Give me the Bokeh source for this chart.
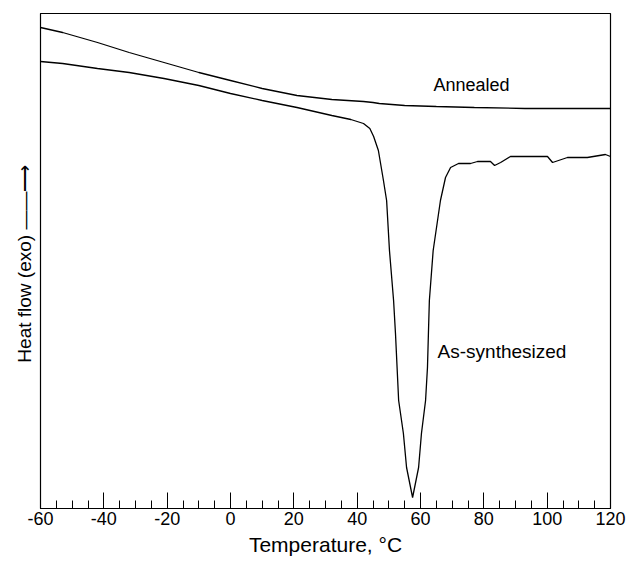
from bokeh.plotting import figure
from bokeh.models import Range1d, FixedTicker, Label
from bokeh.embed import file_html
from bokeh.resources import INLINE

# Annealed curve (temperature in degC, heat flow in arbitrary units)
annealed_t = [-60, -53, -42, -32, -21, -10, 0, 10, 21, 32, 42, 45, 47, 55, 65, 77, 93, 120]
annealed_hf = [4.81, 4.76, 4.66, 4.56, 4.46, 4.36, 4.28, 4.20, 4.13, 4.09, 4.07, 4.06, 4.05, 4.03, 4.02, 4.01, 4.00, 4.00]

# As-synthesized curve
synth_t = [-60, -53, -42, -32, -21, -10, 0, 10, 21, 32, 38, 42, 44, 45.2, 46.7, 48.3, 49.3, 50.2, 51.5, 52.1,
           53.1, 54.6, 55.6, 57.5, 59.4, 60.3, 61.6, 62.2, 62.5, 62.8, 64.0, 66.3, 67.9, 69.5, 72.0,
           75.8, 78.0, 82.1, 83.4, 85.3, 88.4, 100.1, 101.7, 106.4, 112.7, 118.4, 120]
synth_hf = [4.47, 4.45, 4.40, 4.36, 4.30, 4.23, 4.15, 4.08, 4.01, 3.93, 3.89, 3.85, 3.80, 3.72, 3.58, 3.28, 3.08, 2.58, 2.08, 1.75,
            1.08, 0.75, 0.41, 0.11, 0.41, 0.75, 1.08, 1.41, 1.75, 2.08, 2.58, 3.08, 3.31, 3.41, 3.45,
            3.45, 3.47, 3.47, 3.43, 3.46, 3.52, 3.52, 3.46, 3.51, 3.51, 3.54, 3.52]

x_ticks = [-60, -40, -20, 0, 20, 40, 60, 80, 100, 120]
x_tick_labels = ["-60", "-40", "-20", "0", "20", "40", "60", "80", "100", "120"]
x_minor = list(range(-60, 121, 5))

FONT = "Liberation Sans"

p = figure(width=627, height=562, output_backend="svg", toolbar_location=None,
           x_range=Range1d(-60, 120), y_range=Range1d(0, 4.95),
           min_border_left=40, min_border_right=17, min_border_top=13, min_border_bottom=54)
p.grid.visible = False
p.outline_line_color = "black"
p.outline_line_width = 1.2
p.background_fill_color = "white"
p.border_fill_color = "white"

p.line(annealed_t, annealed_hf, line_color="black", line_width=1.3)
p.line(synth_t, synth_hf, line_color="black", line_width=1.3)

# x axis
xa = p.xaxis[0]
xa.ticker = FixedTicker(ticks=x_ticks, minor_ticks=x_minor)
xa.major_label_overrides = {t: s for t, s in zip(x_ticks, x_tick_labels)}
xa.major_tick_in = 16
xa.major_tick_out = 0
xa.minor_tick_in = 8
xa.minor_tick_out = 0
xa.major_tick_line_color = "black"
xa.minor_tick_line_color = "black"
xa.axis_line_color = "black"
xa.major_label_text_font = FONT
xa.major_label_text_font_size = "18px"
xa.major_label_text_color = "black"
xa.major_label_standoff = 3
xa.axis_label = "Temperature, °C"
xa.axis_label_text_font = FONT
xa.axis_label_text_font_size = "21px"
xa.axis_label_text_font_style = "normal"
xa.axis_label_text_color = "black"
xa.axis_label_standoff = 5

# y axis: label only
ya = p.yaxis[0]
ya.ticker = FixedTicker(ticks=[])
ya.major_tick_in = 0
ya.major_tick_out = 0
ya.minor_tick_in = 0
ya.minor_tick_out = 0
ya.major_label_text_font_size = "0px"
ya.axis_line_color = "black"
ya.axis_label = "Heat flow (exo)  \u2014\u2014\u27f6"
ya.axis_label_text_font = FONT
ya.axis_label_text_font_size = "19px"
ya.axis_label_text_font_style = "normal"
ya.axis_label_text_color = "black"
ya.axis_label_standoff = 6

p.add_layout(Label(x=64.1, y=4.14, text="Annealed", text_font=FONT, text_font_size="18px",
                   text_color="black"))
p.add_layout(Label(x=65.4, y=1.57, text="As-synthesized", text_font=FONT, text_font_size="19px",
                   text_color="black", text_baseline="middle"))

open("out.html", "w").write(file_html(p, INLINE))
